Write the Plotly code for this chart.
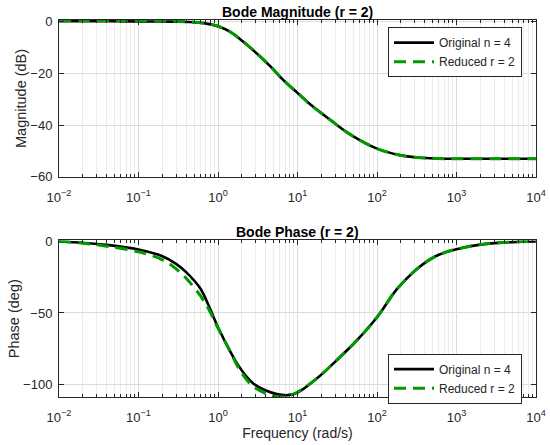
import plotly.graph_objects as go
from plotly.subplots import make_subplots

# частоты, на которых сняты точки (rad/s)
w_mag = [0.01, 0.02, 0.05, 0.1, 0.2, 0.3, 0.45, 0.66, 1.0, 1.43, 2.1, 3.1, 4.6, 6.7,
         10, 14.8, 26.3, 47, 100, 200, 316, 560, 1000, 3000, 10000]
mag_orig = [0.0, 0.0, 0.0, -0.05, -0.1, -0.15, -0.3, -0.7, -1.9, -4.1, -8.0, -12.5, -17.5, -22.8,
            -27.6, -32.3, -38.2, -43.8, -49.1, -51.7, -52.5, -52.9, -53.0, -53.0, -53.0]
mag_red = [0.3, 0.3, 0.3, 0.25, 0.15, 0.05, -0.2, -0.7, -1.9, -4.1, -8.0, -12.5, -17.5, -22.8,
           -27.6, -32.3, -38.2, -43.8, -49.1, -51.7, -52.5, -52.9, -53.0, -53.0, -53.0]

w_ph = [0.01, 0.02, 0.04, 0.1, 0.2, 0.3, 0.4, 0.6, 0.8, 1.0, 1.4, 1.8, 2.3, 2.8, 4.0, 5.5, 7.5,
        10, 17.6, 31, 56, 100, 178, 316, 562, 1000, 2200, 5800, 10000]
ph_orig = [-0.3, -1.2, -2.6, -5.8, -10.5, -16.0, -21.8, -33.0, -47.5, -60.0, -76.0, -86.5, -94.5,
           -99.3, -104.0, -106.5, -107.2, -105.5, -95.5, -83.0, -69.0, -53.0, -33.4, -19.5,
           -10.2, -5.6, -2.1, -0.5, -0.3]
ph_red = [0.0, -1.5, -3.5, -7.5, -13.0, -19.5, -26.0, -38.0, -49.5, -60.5, -76.0, -88.0, -96.5,
          -101.5, -106.0, -108.3, -108.0, -105.0, -95.5, -83.0, -69.0, -53.0, -33.4, -19.5,
          -10.2, -5.6, -2.1, -0.5, -0.3]

# подписи делений
x_ticks = [0.01, 0.1, 1, 10, 100, 1000, 10000]
x_labels = ["10<sup>−2</sup>", "10<sup>−1</sup>", "10<sup>0</sup>", "10<sup>1</sup>",
            "10<sup>2</sup>", "10<sup>3</sup>", "10<sup>4</sup>"]
mag_ticks = [0, -20, -40, -60]
mag_labels = ["0", "−20", "−40", "−60"]
ph_ticks = [0, -50, -100]
ph_labels = ["0", "−50", "−100"]

FONT = "Liberation Sans, Arial, Helvetica, sans-serif"
BLACK = "#000000"
GREEN = "#009900"
AXC = "#262626"

fig = make_subplots(rows=2, cols=1, vertical_spacing=0.0)

fig.add_trace(go.Scatter(x=w_mag, y=mag_orig, mode="lines", line_shape="spline",
                         line=dict(color=BLACK, width=2.6), name="Original n = 4",
                         legend="legend"), row=1, col=1)
fig.add_trace(go.Scatter(x=w_mag, y=mag_red, mode="lines", line_shape="spline",
                         line=dict(color=GREEN, width=3, dash="12px,7px"), name="Reduced r = 2",
                         legend="legend"), row=1, col=1)
fig.add_trace(go.Scatter(x=w_ph, y=ph_orig, mode="lines", line_shape="spline",
                         line=dict(color=BLACK, width=2.6), name="Original n = 4",
                         legend="legend2"), row=2, col=1)
fig.add_trace(go.Scatter(x=w_ph, y=ph_red, mode="lines", line_shape="spline",
                         line=dict(color=GREEN, width=3, dash="12px,7px"), name="Reduced r = 2",
                         legend="legend2"), row=2, col=1)

# малые деления логарифмической оси
minor_vals = [k * 10.0 ** e for e in range(-2, 4) for k in range(2, 10)]

xcommon = dict(type="log", range=[-2, 4], tickvals=x_ticks, ticktext=x_labels,
               showgrid=True, gridcolor="#dcdcdc", gridwidth=1,
               minor=dict(tickvals=minor_vals, showgrid=True, gridcolor="#ececec",
                          ticks="inside", ticklen=3, tickcolor=AXC),
               ticks="inside", ticklen=5, tickcolor=AXC, ticklabelstandoff=8,
               showline=True, linecolor=AXC, linewidth=1, mirror="ticks", automargin=False,
               zeroline=False, tickfont=dict(family=FONT, size=13, color=AXC))
ycommon = dict(showgrid=True, gridcolor="#dcdcdc", ticks="inside", ticklen=5,
               tickcolor=AXC, showline=True, linecolor=AXC, linewidth=1,
               mirror="ticks", zeroline=False, ticklabelstandoff=3, automargin=False,
               tickfont=dict(family=FONT, size=13, color=AXC))

fig.update_xaxes(**xcommon)
fig.update_yaxes(**ycommon)
fig.update_xaxes(title=dict(text="Frequency (rad/s)", font=dict(family=FONT, size=14, color=AXC),
                            standoff=0), row=2, col=1)
fig.update_yaxes(range=[-60, 0.5], tickvals=mag_ticks, ticktext=mag_labels,
                 domain=[0.5838, 1.0],
                 title=dict(text="Magnitude (dB)", font=dict(family=FONT, size=14.5, color=AXC),
                            standoff=0), row=1, col=1)
fig.update_yaxes(range=[-108.5, 0.5], tickvals=ph_ticks, ticktext=ph_labels,
                 domain=[0.0, 0.4154],
                 title=dict(text="Phase (deg)", font=dict(family=FONT, size=14.5, color=AXC),
                            standoff=0), row=2, col=1)

legend_style = dict(bgcolor="white", bordercolor=AXC, borderwidth=1,
                    font=dict(family=FONT, size=12, color=AXC),
                    xanchor="right", yanchor="top", tracegroupgap=0, itemwidth=40)
fig.update_layout(
    legend=dict(x=0.9706, y=0.981, **legend_style),
    legend2=dict(x=0.9706, y=0.115, **legend_style),
)

fig.add_annotation(text="<b>Bode Magnitude (r = 2)</b>", xref="paper", yref="paper",
                   x=0.5, y=1.0, yshift=8, showarrow=False, yanchor="middle",
                   font=dict(family=FONT, size=14, color="#000000"))
fig.add_annotation(text="<b>Bode Phase (r = 2)</b>", xref="paper", yref="paper",
                   x=0.5, y=0.4154, yshift=8.3, showarrow=False, yanchor="middle",
                   font=dict(family=FONT, size=14, color="#000000"))

fig.update_layout(width=550, height=445, margin=dict(l=59, r=14, t=19.5, b=48.3),
                  plot_bgcolor="white", paper_bgcolor="white", showlegend=True)

# убираем стандартный отступ body, чтобы картинка легла ровно в окно
fig.write_html("out.html", config={"displayModeBar": False},
               post_script="document.body.style.margin='0';")
